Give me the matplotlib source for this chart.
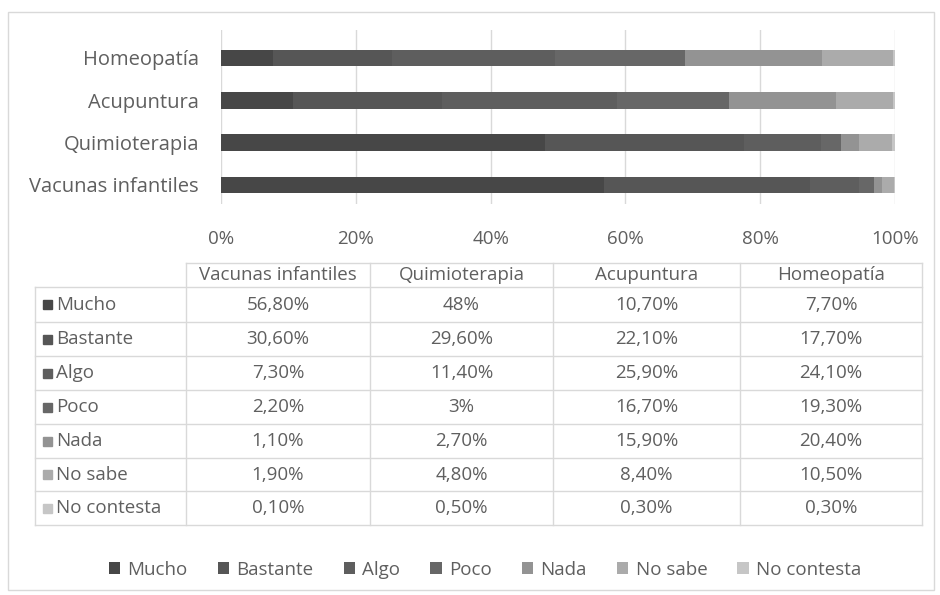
import numpy as np
import matplotlib.pyplot as plt
from matplotlib.patches import Rectangle

plt.rcParams['font.family'] = ['Open Sans', 'DejaVu Sans']

categorias = ['Vacunas infantiles', 'Quimioterapia', 'Acupuntura', 'Homeopatía']
respuestas = ['Mucho', 'Bastante', 'Algo', 'Poco', 'Nada', 'No sabe', 'No contesta']

mucho = [56.8, 48.0, 10.7, 7.7]
bastante = [30.6, 29.6, 22.1, 17.7]
algo = [7.3, 11.4, 25.9, 24.1]
poco = [2.2, 3.0, 16.7, 19.3]
nada = [1.1, 2.7, 15.9, 20.4]
no_sabe = [1.9, 4.8, 8.4, 10.5]
no_contesta = [0.1, 0.5, 0.3, 0.3]

etiquetas = [
    ['56,80%', '48%', '10,70%', '7,70%'],
    ['30,60%', '29,60%', '22,10%', '17,70%'],
    ['7,30%', '11,40%', '25,90%', '24,10%'],
    ['2,20%', '3%', '16,70%', '19,30%'],
    ['1,10%', '2,70%', '15,90%', '20,40%'],
    ['1,90%', '4,80%', '8,40%', '10,50%'],
    ['0,10%', '0,50%', '0,30%', '0,30%'],
]

series = [mucho, bastante, algo, poco, nada, no_sabe, no_contesta]
colores = ['#474747', '#565656', '#5e5e5e', '#676767', '#939393', '#ababab', '#c6c6c6']
txt = '#5f5f5f'
fs = 13.5

W, H = 940, 595
fig = plt.figure(figsize=(W / 100, H / 100), dpi=100)

# marco exterior
bg = fig.add_axes([0, 0, 1, 1])
bg.set_xlim(0, W)
bg.set_ylim(H, 0)
bg.axis('off')
bg.add_patch(Rectangle((8, 12), 926, 578, fill=False, ec='#d9d9d9', lw=1))

# barras
ax = fig.add_axes([221 / W, 1 - 204 / H, (895 - 221) / W, (204 - 30) / H])
y = np.arange(len(categorias))
izq = np.zeros(len(categorias))
handles = []
for serie, col, nom in zip(series, colores, respuestas):
    tot = np.array(serie)
    b = ax.barh(y, tot, left=izq, height=0.39, color=col, label=nom, zorder=3)
    handles.append(b)
    izq += tot
ax.set_xlim(0, 100)
ax.set_ylim(-0.45, 3.66)
ax.set_xticks([0, 20, 40, 60, 80, 100])
ax.set_xticklabels(['0%', '20%', '40%', '60%', '80%', '100%'])
ax.set_yticks(y)
ax.set_yticklabels(categorias)
ax.grid(axis='x', color='#d9d9d9', lw=1, zorder=0)
for s in ax.spines.values():
    s.set_visible(False)
ax.tick_params(length=0, colors=txt, labelsize=fs)
ax.tick_params(axis='y', labelsize=14.5)
ax.tick_params(axis='x', pad=19)
ax.tick_params(axis='y', pad=16)

# tabla de datos
col_x = [35, 186, 370, 553, 740, 922]
fil_y = [263, 287, 322, 356, 390, 424, 458, 491, 525]
lc = '#d9d9d9'
bg.plot([col_x[1], col_x[-1]], [fil_y[0], fil_y[0]], color=lc, lw=1)
for yy in fil_y[1:]:
    bg.plot([col_x[0], col_x[-1]], [yy, yy], color=lc, lw=1)
bg.plot([col_x[0], col_x[0]], [fil_y[1], fil_y[-1]], color=lc, lw=1)
for xx in col_x[1:]:
    bg.plot([xx, xx], [fil_y[0], fil_y[-1]], color=lc, lw=1)

for j, cat in enumerate(categorias):
    cx = (col_x[j + 1] + col_x[j + 2]) / 2
    bg.text(cx, (fil_y[0] + fil_y[1]) / 2, cat, ha='center', va='center', color=txt, fontsize=fs)

for i, nom in enumerate(respuestas):
    cy = (fil_y[i + 1] + fil_y[i + 2]) / 2
    bg.add_patch(Rectangle((43, cy - 4.5), 9, 9, color=colores[i]))
    bg.text(56, cy, nom, ha='left', va='center', color=txt, fontsize=fs)
    for j in range(len(categorias)):
        cx = (col_x[j + 1] + col_x[j + 2]) / 2
        bg.text(cx, cy, etiquetas[i][j], ha='center', va='center', color=txt, fontsize=fs)

# leyenda
fig.legend(handles=handles, labels=respuestas, loc='center', bbox_to_anchor=(485 / W, 1 - 570 / H),
           ncol=7, frameon=False, fontsize=fs, labelcolor=txt, handlelength=0.6, handleheight=0.6,
           handletextpad=0.4, columnspacing=1.6)

fig.savefig('out.png', dpi=100)
